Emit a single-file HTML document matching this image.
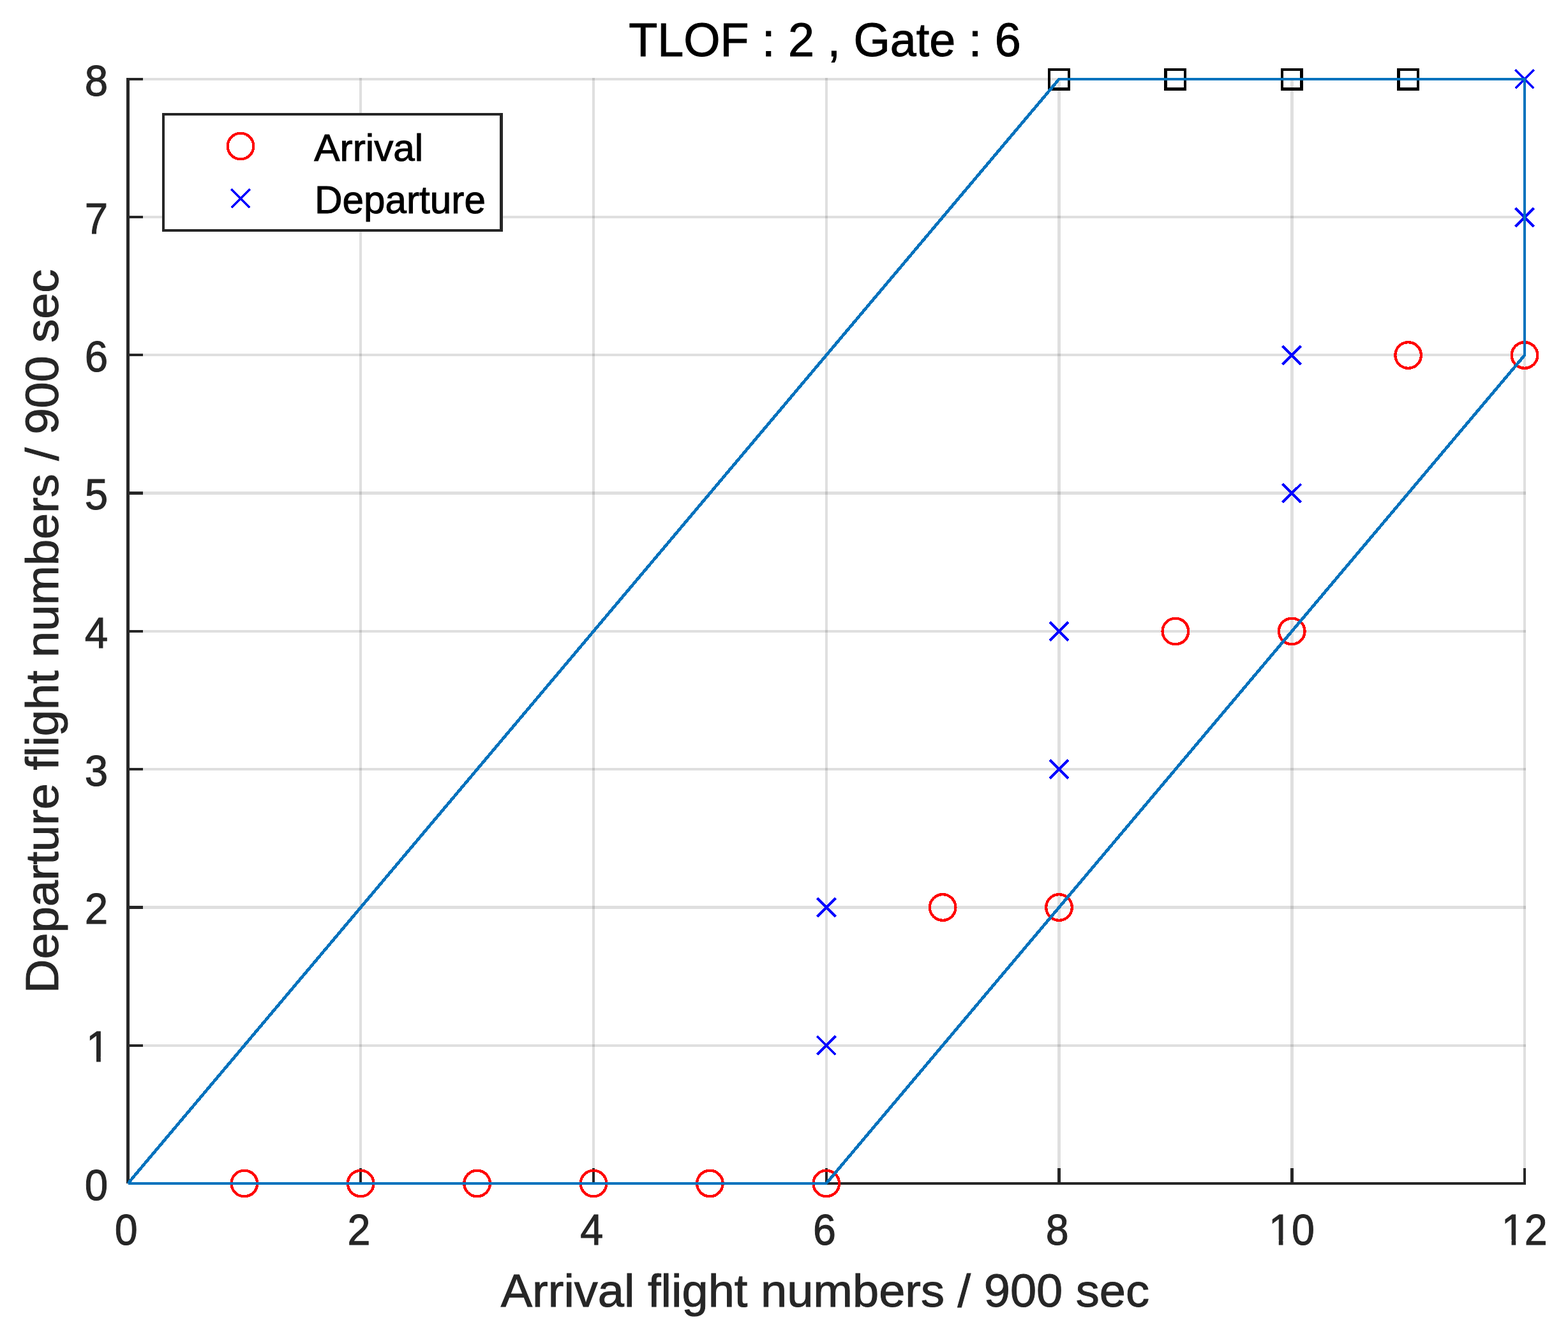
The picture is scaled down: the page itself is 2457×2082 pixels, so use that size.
<!DOCTYPE html>
<html><head><meta charset="utf-8"><title>TLOF : 2 , Gate : 6</title>
<style>
html,body{margin:0;padding:0;background:#fff;}
body{width:2457px;height:2082px;overflow:hidden;}
svg{display:block;}
text{font-family:"Liberation Sans", Arial, Helvetica, sans-serif;}
</style></head><body>
<svg width="2457" height="2082" viewBox="0 0 2457 2082">
<rect width="2457" height="2082" fill="#fff"/>
<g fill="#262626" fill-opacity="0.15"><rect x="563" y="122" width="4" height="1734"/><rect x="928" y="122" width="4" height="1734"/><rect x="1293" y="122" width="4" height="1734"/><rect x="1657" y="122" width="5" height="1734"/><rect x="2022" y="122" width="5" height="1734"/><rect x="2387" y="122" width="4" height="1734"/><rect x="198" y="1636" width="2193" height="4"/><rect x="198" y="1419" width="2193" height="5"/><rect x="198" y="1203" width="2193" height="4"/><rect x="198" y="987" width="2193" height="4"/><rect x="198" y="770" width="2193" height="5"/><rect x="198" y="554" width="2193" height="4"/><rect x="198" y="338" width="2193" height="4"/><rect x="198" y="122" width="2193" height="4"/></g>
<g fill="#262626"><rect x="198" y="122" width="5" height="1732"/><rect x="201" y="1852" width="2190" height="4"/><rect x="198" y="1636" width="26" height="4"/><rect x="198" y="1419" width="26" height="5"/><rect x="198" y="1203" width="26" height="4"/><rect x="198" y="987" width="26" height="4"/><rect x="198" y="770" width="26" height="5"/><rect x="198" y="554" width="26" height="4"/><rect x="198" y="338" width="26" height="4"/><rect x="198" y="122" width="26" height="4"/><rect x="563" y="1830" width="4" height="26"/><rect x="928" y="1830" width="4" height="26"/><rect x="1293" y="1830" width="4" height="26"/><rect x="1657" y="1830" width="5" height="26"/><rect x="2022" y="1830" width="5" height="26"/><rect x="2387" y="1830" width="4" height="26"/></g>
<circle cx="382.88" cy="1854.00" r="20.3" fill="none" stroke="#FF0000" stroke-width="4.3" shape-rendering="crispEdges"/>
<circle cx="565.25" cy="1854.00" r="20.3" fill="none" stroke="#FF0000" stroke-width="4.3" shape-rendering="crispEdges"/>
<circle cx="747.62" cy="1854.00" r="20.3" fill="none" stroke="#FF0000" stroke-width="4.3" shape-rendering="crispEdges"/>
<circle cx="930.00" cy="1854.00" r="20.3" fill="none" stroke="#FF0000" stroke-width="4.3" shape-rendering="crispEdges"/>
<circle cx="1112.38" cy="1854.00" r="20.3" fill="none" stroke="#FF0000" stroke-width="4.3" shape-rendering="crispEdges"/>
<circle cx="1294.75" cy="1854.00" r="20.3" fill="none" stroke="#FF0000" stroke-width="4.3" shape-rendering="crispEdges"/>
<circle cx="1477.12" cy="1421.50" r="20.3" fill="none" stroke="#FF0000" stroke-width="4.3" shape-rendering="crispEdges"/>
<circle cx="1659.50" cy="1421.50" r="20.3" fill="none" stroke="#FF0000" stroke-width="4.3" shape-rendering="crispEdges"/>
<circle cx="1841.88" cy="989.00" r="20.3" fill="none" stroke="#FF0000" stroke-width="4.3" shape-rendering="crispEdges"/>
<circle cx="2024.25" cy="989.00" r="20.3" fill="none" stroke="#FF0000" stroke-width="4.3" shape-rendering="crispEdges"/>
<circle cx="2206.62" cy="556.50" r="20.3" fill="none" stroke="#FF0000" stroke-width="4.3" shape-rendering="crispEdges"/>
<circle cx="2389.00" cy="556.50" r="20.3" fill="none" stroke="#FF0000" stroke-width="4.3" shape-rendering="crispEdges"/>
<path d="M1280.25 1623.25L1309.25 1652.25M1280.25 1652.25L1309.25 1623.25" stroke="#0000FF" stroke-width="4.2" fill="none" shape-rendering="crispEdges"/>
<path d="M1280.25 1407.00L1309.25 1436.00M1280.25 1436.00L1309.25 1407.00" stroke="#0000FF" stroke-width="4.2" fill="none" shape-rendering="crispEdges"/>
<path d="M1645.00 1190.75L1674.00 1219.75M1645.00 1219.75L1674.00 1190.75" stroke="#0000FF" stroke-width="4.2" fill="none" shape-rendering="crispEdges"/>
<path d="M1645.00 974.50L1674.00 1003.50M1645.00 1003.50L1674.00 974.50" stroke="#0000FF" stroke-width="4.2" fill="none" shape-rendering="crispEdges"/>
<path d="M2009.75 758.25L2038.75 787.25M2009.75 787.25L2038.75 758.25" stroke="#0000FF" stroke-width="4.2" fill="none" shape-rendering="crispEdges"/>
<path d="M2009.75 542.00L2038.75 571.00M2009.75 571.00L2038.75 542.00" stroke="#0000FF" stroke-width="4.2" fill="none" shape-rendering="crispEdges"/>
<path d="M2374.50 325.75L2403.50 354.75M2374.50 354.75L2403.50 325.75" stroke="#0000FF" stroke-width="4.2" fill="none" shape-rendering="crispEdges"/>
<path d="M2374.50 109.50L2403.50 138.50M2374.50 138.50L2403.50 109.50" stroke="#0000FF" stroke-width="4.2" fill="none" shape-rendering="crispEdges"/>
<rect x="1644.20" y="108.70" width="30.6" height="30.6" fill="none" stroke="#000" stroke-width="4.4" shape-rendering="crispEdges"/>
<rect x="1826.58" y="108.70" width="30.6" height="30.6" fill="none" stroke="#000" stroke-width="4.4" shape-rendering="crispEdges"/>
<rect x="2008.95" y="108.70" width="30.6" height="30.6" fill="none" stroke="#000" stroke-width="4.4" shape-rendering="crispEdges"/>
<rect x="2191.32" y="108.70" width="30.6" height="30.6" fill="none" stroke="#000" stroke-width="4.4" shape-rendering="crispEdges"/>
<path d="M200.50 1854.00 L1659.50 124.00 L2389.00 124.00 L2389.00 556.50 L1294.75 1854.00 L200.50 1854.00" fill="none" stroke="#0072BD" stroke-width="4" stroke-linejoin="miter" shape-rendering="crispEdges"/>
<path d="M202.43 1851.71L1657.57 126.29M1296.68 1851.71L2387.07 558.79" fill="none" stroke="#0072BD" stroke-width="4.8" shape-rendering="crispEdges"/>
<rect x="254" y="177" width="534" height="186" fill="#262626"/>
<rect x="258" y="181" width="525" height="178" fill="#fff"/>
<circle cx="377" cy="229" r="20.3" fill="none" stroke="#FF0000" stroke-width="4.3" shape-rendering="crispEdges"/>
<path d="M362.5 296.5L391.5 325.5M362.5 325.5L391.5 296.5" stroke="#0000FF" stroke-width="4.2" fill="none" shape-rendering="crispEdges"/>
<text transform="translate(492.30 252.43) scale(1.0060 0.9730)" font-size="60" fill="#000" stroke="#000" stroke-width="1.011" text-anchor="start">Arrival</text>
<text transform="translate(492.98 333.65) scale(1.0044 1.0159)" font-size="60" fill="#000" stroke="#000" stroke-width="0.990" text-anchor="start">Departure</text>
<g transform="translate(169.18 1879.52) scale(0.9825 1.0196)"><text font-size="66.67" fill="#262626" stroke="#262626" stroke-width="0.999" text-anchor="end">0</text></g>
<g transform="translate(171.48 1663.27) scale(0.9825 1.0196)"><text font-size="66.67" fill="#262626" stroke="#262626" stroke-width="0.999" text-anchor="end">1</text><rect x="-33.40" y="-7.5" width="12.58" height="10" fill="#fff"/><rect x="-13.92" y="-7.5" width="12.06" height="10" fill="#fff"/></g>
<g transform="translate(169.18 1447.02) scale(0.9825 1.0196)"><text font-size="66.67" fill="#262626" stroke="#262626" stroke-width="0.999" text-anchor="end">2</text></g>
<g transform="translate(169.18 1230.77) scale(0.9825 1.0196)"><text font-size="66.67" fill="#262626" stroke="#262626" stroke-width="0.999" text-anchor="end">3</text></g>
<g transform="translate(169.18 1014.52) scale(0.9825 1.0196)"><text font-size="66.67" fill="#262626" stroke="#262626" stroke-width="0.999" text-anchor="end">4</text></g>
<g transform="translate(169.18 798.27) scale(0.9825 1.0196)"><text font-size="66.67" fill="#262626" stroke="#262626" stroke-width="0.999" text-anchor="end">5</text></g>
<g transform="translate(169.18 582.02) scale(0.9825 1.0196)"><text font-size="66.67" fill="#262626" stroke="#262626" stroke-width="0.999" text-anchor="end">6</text></g>
<g transform="translate(169.18 365.77) scale(0.9825 1.0196)"><text font-size="66.67" fill="#262626" stroke="#262626" stroke-width="0.999" text-anchor="end">7</text></g>
<g transform="translate(169.18 149.52) scale(0.9825 1.0196)"><text font-size="66.67" fill="#262626" stroke="#262626" stroke-width="0.999" text-anchor="end">8</text></g>
<g transform="translate(197.71 1949.83) scale(0.9688 1.0196)"><text font-size="66.67" fill="#262626" stroke="#262626" stroke-width="1.006" text-anchor="middle">0</text></g>
<g transform="translate(562.46 1949.83) scale(0.9688 1.0196)"><text font-size="66.67" fill="#262626" stroke="#262626" stroke-width="1.006" text-anchor="middle">2</text></g>
<g transform="translate(927.21 1949.83) scale(0.9688 1.0196)"><text font-size="66.67" fill="#262626" stroke="#262626" stroke-width="1.006" text-anchor="middle">4</text></g>
<g transform="translate(1291.96 1949.83) scale(0.9688 1.0196)"><text font-size="66.67" fill="#262626" stroke="#262626" stroke-width="1.006" text-anchor="middle">6</text></g>
<g transform="translate(1656.71 1949.83) scale(0.9688 1.0196)"><text font-size="66.67" fill="#262626" stroke="#262626" stroke-width="1.006" text-anchor="middle">8</text></g>
<g transform="translate(2023.96 1949.83) scale(0.9688 1.0196)"><text font-size="66.67" fill="#262626" stroke="#262626" stroke-width="1.006" text-anchor="middle">10</text><rect x="-33.40" y="-7.5" width="12.58" height="10" fill="#fff"/><rect x="-13.92" y="-7.5" width="12.06" height="10" fill="#fff"/></g>
<g transform="translate(2388.71 1949.83) scale(0.9688 1.0196)"><text font-size="66.67" fill="#262626" stroke="#262626" stroke-width="1.006" text-anchor="middle">12</text><rect x="-33.40" y="-7.5" width="12.58" height="10" fill="#fff"/><rect x="-13.92" y="-7.5" width="12.06" height="10" fill="#fff"/></g>
<text transform="translate(1292.85 2047.22) scale(1.0097 0.9861)" font-size="73.33" fill="#262626" stroke="#262626" stroke-width="1.002" text-anchor="middle">Arrival flight numbers / 900 sec</text>
<text transform="translate(91.16 988.77) rotate(-90) scale(1.0085 0.9734)" font-size="73.33" fill="#262626" stroke="#262626" stroke-width="1.009" text-anchor="middle">Departure flight numbers / 900 sec</text>
<text transform="translate(1292.49 88.28) scale(1.0053 1.0024)" font-size="73.33" fill="#000" stroke="#000" stroke-width="0.996" text-anchor="middle">TLOF : 2 , Gate : 6</text>
</svg>
</body></html>
